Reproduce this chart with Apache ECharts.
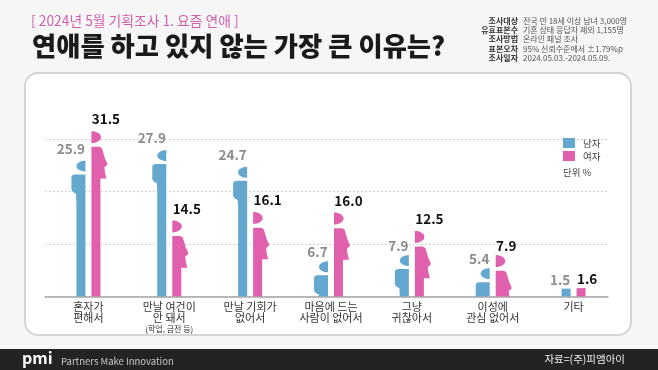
<!DOCTYPE html>
<html><head><meta charset="utf-8">
<style>html,body{margin:0;padding:0;background:#f6f6f6}#c{width:658px;height:370px}</style>
<script src="https://cdn.jsdelivr.net/npm/echarts@6/dist/echarts.min.js"></script>
</head><body><div id="c"></div>
<script>
const categories = ['혼자가\n편해서','만날 여건이\n안 돼서\n{s|(학업, 금전 등)}','만날 기회가\n없어서','마음에 드는\n사람이 없어서','그냥\n귀찮아서','이성에\n관심 없어서','기타'];
const maleValues = [25.9,27.9,24.7,6.7,7.9,5.4,1.5];
const femaleValues = [31.5,14.5,16.1,16.0,12.5,7.9,1.6];
const gridTicks = ['',''];
const surveyLabels = ['조사대상','유효표본수','조사방법','표본오차','조사일자'];
const surveyValues = ['전국 만 18세 이상 남녀 3,000명','기혼 상태 응답자 제외 1,155명','온라인 패널 조사','95% 신뢰수준에서 ±1.79%p','2024.05.03.-2024.05.09.'];
const FONT = '"Noto Sans CJK KR","Noto Sans",sans-serif';
const BLUE = '#64a8d0', PINK = '#e160ae';

function head(edge, dir, t, h, w){
  const pts = [];
  for(let k=0;k<=16;k++){
    const a = -Math.PI/2 + Math.PI*k/16;
    pts.push([edge + dir*w*Math.cos(a), t + h/2 + h/2*Math.sin(a)]);
  }
  return pts;
}
function makeRender(isMale){
  return function(params, api){
    const v = api.value(1);
    const c = api.coord([api.value(0), 0]);
    const top = api.coord([api.value(0), v])[1];
    const base = c[1];
    const dir = isMale ? -1 : 1;
    const edge = c[0] + dir*3;
    const W = 9;
    const col = isMale ? BLUE : PINK;
    const cl = y => Math.min(y, base);
    const children = [];
    const H = base - top;
    if(H < 14){
      children.push({type:'rect',shape:{x:isMale?edge-W:edge,y:top,width:W,height:H},style:{fill:col}});
    } else {
      children.push({type:'polygon',shape:{points:head(edge,dir,top,isMale?11:12,isMale?9:9.5)},style:{fill:col}});
      let body;
      if(isMale){
        body = [[0,14],[11,14],[13.5,15],[14,17],[14,29],[13,31],[11,32.5],[9.5,33],[9,42],[9,H],[0,H]];
        if(H < 33) body = [[0,14],[11,14],[13.5,15],[14,17],[14,H],[0,H]];
      } else {
        body = [[0,15.7],[8,15.7],[10.5,17],[12,22],[13.5,27],[16,32.5],[15.5,34],[13,36],[13.5,41],[15,47.3],[9,47.3],[9,H],[0,H]];
        if(H < 48) body = [[0,15.7],[8,15.7],[10.5,17],[12,22],[13.5,27],[16,32.5],[15.5,34],[13,36],[13.5,41],[14.5,H],[0,H]];
      }
      children.push({type:'polygon',shape:{points:body.map(p=>[edge+dir*p[0],cl(top+p[1])])},style:{fill:col}});
    }
    const off = v < 10 ? 6 : 10;
    children.push({type:'text',style:{
      text:v.toFixed(1),x:c[0]+dir*(7.5+off),y:top-(v<10?9:12),align:'center',verticalAlign:'middle',
      font:'bold 13.5px '+FONT,fill:isMale?'#8c8c8c':'#111'}});
    return {type:'group',children};
  };
}
const chart = echarts.init(document.getElementById('c'),null,{renderer:'canvas'});
const surveyGraphics = [];
surveyLabels.forEach((s,i)=>{
  const y = 20.7 + i*9.35;
  surveyGraphics.push({type:'text',style:{text:s,x:518,y,align:'right',verticalAlign:'middle',font:'bold 8px '+FONT,fill:'#333'}});
  surveyGraphics.push({type:'text',style:{text:surveyValues[i],x:523,y,align:'left',verticalAlign:'middle',font:'8px '+FONT,fill:'#555'}});
});
chart.setOption({
  animation:false,
  backgroundColor:'#f6f6f6',
  legend:{orient:'vertical',left:563,top:138,itemWidth:12,itemHeight:10,itemGap:3,icon:'rect',
    data:['남자','여자'],textStyle:{fontFamily:FONT,fontSize:9.5,color:'#444',padding:[0,0,0,3]},padding:0,selectedMode:false},
  grid:[
    {left:48,width:566,top:112.75,height:183.75},
    {left:45,width:563,top:139,height:157.5}
  ],
  xAxis:[
    {gridIndex:0,type:'category',data:categories,axisLine:{show:false},axisTick:{show:false},
     axisLabel:{interval:0,margin:5,fontFamily:FONT,fontSize:11,lineHeight:11,color:'#333',
       rich:{s:{fontSize:8,lineHeight:10,fontFamily:FONT,color:'#333'}}}},
    {gridIndex:1,type:'category',data:gridTicks,axisLine:{show:true,lineStyle:{color:'#a5a5a5',width:1.5}},axisTick:{show:false},axisLabel:{show:false}}
  ],
  yAxis:[
    {gridIndex:0,type:'value',min:0,max:35,show:false,splitLine:{show:false}},
    {gridIndex:1,type:'value',min:0,max:30,interval:10,axisLine:{show:false},axisTick:{show:false},axisLabel:{show:false},
     splitLine:{show:true,lineStyle:{color:'#c4c4c4',type:[1.5,2.5],width:1}}}
  ],
  series:[
    {name:'남자',type:'custom',xAxisIndex:0,yAxisIndex:0,z:5,itemStyle:{color:BLUE},renderItem:makeRender(true),clip:false,
     data:maleValues.map((v,i)=>[i,v])},
    {name:'여자',type:'custom',xAxisIndex:0,yAxisIndex:0,z:5,itemStyle:{color:PINK},renderItem:makeRender(false),clip:false,
     data:femaleValues.map((v,i)=>[i,v])}
  ],
  graphic:{elements:[
    {type:'rect',z:-10,silent:true,shape:{x:25,y:73,width:606,height:262,r:13},style:{fill:'#fff',stroke:'#c9c9c9',lineWidth:1.5}},
    {type:'rect',z:-10,silent:true,shape:{x:0,y:349,width:658,height:21},style:{fill:'#232323'}},
    {type:'text',style:{text:'[ 2024년 5월 기획조사 1. 요즘 연애 ]',x:31,y:21,verticalAlign:'middle',font:'13.8px '+FONT,fill:'#cf5fb0'}},
    {type:'text',style:{text:'연애를 하고 있지 않는 가장 큰 이유는?',x:32,y:46,verticalAlign:'middle',font:'900 26.3px '+FONT,fill:'#1a1a1a'}},
    {type:'text',style:{text:'단위 %',x:563,y:172,verticalAlign:'middle',font:'9.5px '+FONT,fill:'#444'}},
    {type:'text',style:{text:'pmi',x:22,y:358,verticalAlign:'middle',font:'bold 16px '+FONT,fill:'#fff'}},
    {type:'text',style:{text:'Partners Make Innovation',x:61,y:361,verticalAlign:'middle',font:'9.5px '+FONT,fill:'#c8c8c8'}},
    {type:'text',style:{text:'자료=(주)피앰아이',x:625,y:359,align:'right',verticalAlign:'middle',font:'10.5px '+FONT,fill:'#eee'}},
    ...surveyGraphics
  ]}
});
</script></body></html>
